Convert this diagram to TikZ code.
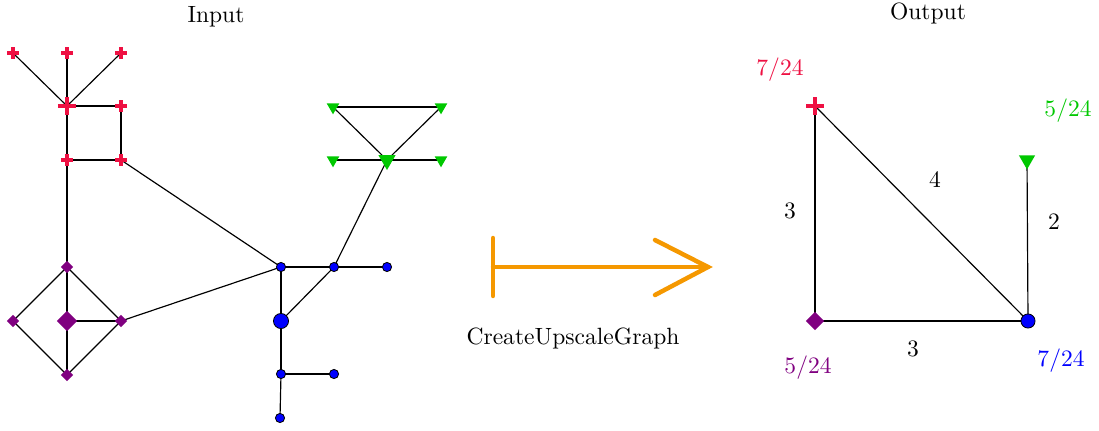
\documentclass[tikz,border=0pt]{standalone}
\usetikzlibrary{shapes.geometric,backgrounds,calc}
\definecolor{cred}{RGB}{238,16,66}
\definecolor{cgreen}{RGB}{0,200,0}
\definecolor{cpurple}{RGB}{128,0,128}
\definecolor{cblue}{RGB}{0,0,255}
\definecolor{corange}{RGB}{245,152,0}
\tikzset{
  x=0.425pt,y=-0.425pt,
  edge/.style={draw=black,line width=0.5pt},
  crsw/.store in=\crsw, crsw=1.3pt,
  crs/.style={rectangle,inner sep=0pt,minimum size=5.1pt,
    path picture={\draw[cred,line width=\crsw]
      (path picture bounding box.north) -- (path picture bounding box.south)
      (path picture bounding box.west) -- (path picture bounding box.east);}},
  bigcrs/.style={crs,minimum size=7.7pt,crsw=1.7pt},
  tri/.style={regular polygon,regular polygon sides=3,shape border rotate=180,fill=cgreen,inner sep=0pt,minimum size=6.2pt},
  bigtri/.style={tri,minimum size=8.5pt},
  dia/.style={diamond,fill=cpurple,inner sep=0pt,minimum size=5.4pt},
  bigdia/.style={dia,minimum size=8.8pt},
  dot/.style={circle,fill=cblue,draw=black,line width=0.35pt,inner sep=0pt,minimum size=3.9pt},
  bigdot/.style={dot,minimum size=6.4pt},
  lbl/.style={inner sep=0pt},
}
\begin{document}
\begin{tikzpicture}
\useasboundingbox (0,0) rectangle (1099,430);
\node[lbl] (tin) at (216,17) {Input};
\node[lbl] (tout) at (928,13) {Output};
% crosses
\node[crs] (c1) at (13,53) {};
\node[crs] (c2) at (67,53) {};
\node[crs] (c3) at (121,53) {};
\node[bigcrs] (c4) at (67,106) {};
\node[crs] (c5) at (121,106) {};
\node[crs] (c6) at (67,160) {};
\node[crs] (c7) at (121,160) {};
% triangles
\node[tri] (t1) at (333,107) {};
\node[tri] (t2) at (441,107) {};
\node[tri] (t3) at (333,160) {};
\node[bigtri] (t4) at (387,160) {};
\node[tri] (t5) at (441,160) {};
% diamonds
\node[dia] (d1) at (67,267) {};
\node[dia] (d2) at (13,321) {};
\node[bigdia] (d3) at (67,321) {};
\node[dia] (d4) at (121,321) {};
\node[dia] (d5) at (67,375) {};
% dots
\node[dot] (b1) at (281,267) {};
\node[dot] (b2) at (334,267) {};
\node[dot] (b3) at (387,267) {};
\node[bigdot] (b4) at (281,321) {};
\node[dot] (b5) at (281,374) {};
\node[dot] (b6) at (334,374) {};
\node[dot] (b7) at (280,418) {};
\begin{scope}[on background layer]
\foreach \a/\b in {c1/c4,c2/c4,c3/c4,c4/c5,c5/c7,c4/c6,c6/c7,c7/b1,c6/d1,
  d1/d2,d1/d4,d1/d3,d2/d5,d4/d5,d3/d5,d3/d4,d4/b1,
  t1/t2,t1/t4,t2/t4,t3/t4,t4/t5,t4/b2,
  b1/b2,b2/b3,b1/b4,b2/b4,b4/b5,b5/b6,b5/b7}
  \draw[edge] (\a.center) -- (\b.center);
\end{scope}
% arrow
\coordinate (a1) at (493,267);
\coordinate (a2) at (708,267);
\draw[corange,line width=1.9pt,line cap=round] ($(a1)+(0,-29)$) -- ($(a1)+(0,29)$);
\draw[corange,line width=1.9pt,line cap=round] (a1) -- (a2);
\draw[corange,line width=1.9pt,line cap=round,line join=miter] ($(a2)+(-53,-27)$) -- (a2) -- ($(a2)+(-53,28)$);
\node[lbl] (tcug) at (573,338) {CreateUpscaleGraph};
% output graph
\node[crs,minimum size=7.5pt,crsw=1.6pt] (R) at (815,106) {};
\node[tri,minimum size=8pt] (G) at (1027,160) {};
\node[dia,minimum size=8pt] (P) at (815,321) {};
\node[dot,minimum size=6pt] (B) at (1028,321) {};
\begin{scope}[on background layer]
\draw[edge] (R.center) -- (P.center);
\draw[edge] (R.center) -- (B.center);
\draw[edge] (P.center) -- (B.center);
\draw[edge] (G.center) -- (B.center);
\end{scope}
\node[lbl] (l1) at (790,211) {$3$};
\node[lbl] (l2) at (935,180) {$4$};
\node[lbl] (l3) at (1054,222) {$2$};
\node[lbl] (l4) at (913,349) {$3$};
\node[lbl,text=cred] (f1) at (780,70) {$7/24$};
\node[lbl,text=cgreen] (f2) at (1068,111) {$5/24$};
\node[lbl,text=cpurple] (f3) at (808,368) {$5/24$};
\node[lbl,text=cblue] (f4) at (1061,361) {$7/24$};
\end{tikzpicture}
\end{document}
